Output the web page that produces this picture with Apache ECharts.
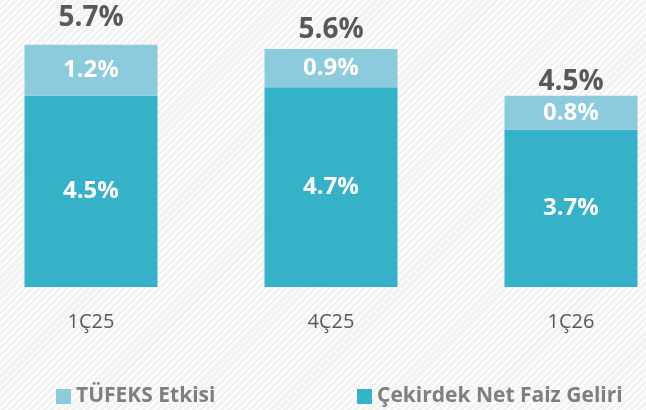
<!DOCTYPE html>
<html>
<head>
<meta charset="utf-8">
<script src="https://cdn.jsdelivr.net/npm/echarts@6/dist/echarts.min.js"></script>
<style>
    html, body { margin: 0; padding: 0; }
    body {
        width: 646px; height: 410px;
        background-color: #f2f2f2;
        background-image: repeating-linear-gradient(135deg, #f2f2f2 0px, #f2f2f2 3px, #fdfdfd 3px, #fdfdfd 5px);
    }
</style>
</head>
<body>
<div id="nimChart" style="width: 646px;height:410px;"></div>
<script>
    // donemler ve degerler (%)
    var quarters = ['1Ç25', '4Ç25', '1Ç26'];
    var coreNii = [4.5, 4.7, 3.7];
    var cpiEffect = [1.2, 0.9, 0.8];
    var totals = [5.7, 5.6, 4.5];

    var coreName = 'Çekirdek Net Faiz Geliri';
    var cpiName = 'TÜFEKS Etkisi';

    // toplam etiketlerinin orijinaldeki hafif kaymasi
    var totalLift = [8, 0, -5];

    var chart = echarts.init(document.getElementById('nimChart'));
    var font = '"Open Sans", "Noto Sans", sans-serif';

    var inLabel = {
        show: true,
        position: 'inside',
        color: '#ffffff',
        fontFamily: font,
        fontWeight: 'bold',
        fontSize: 24,
        formatter: function (p) { return p.value.toFixed(1) + '%'; }
    };

    var legendText = { color: '#7f7f7f', fontFamily: font, fontWeight: 'bold', fontSize: 21 };

    var option = {
        animation: false,
        // kategoriler noktalarda, cubuklar noktalarin etrafinda
        grid: { left: 91, right: 75, top: 0, bottom: 123 },
        legend: [{
            left: 51, top: 381,
            icon: 'rect',
            itemWidth: 15, itemHeight: 15,
            data: [cpiName],
            textStyle: legendText
        }, {
            left: 352, top: 381,
            icon: 'rect',
            itemWidth: 15, itemHeight: 15,
            data: [coreName],
            textStyle: legendText
        }],
        xAxis: {
            type: 'category',
            boundaryGap: false,
            data: quarters,
            axisLine: { show: false },
            axisTick: { show: false },
            axisLabel: { color: '#595959', fontFamily: font, fontSize: 20, margin: 25 }
        },
        yAxis: {
            type: 'value',
            min: 0,
            max: 6.75,
            show: false,
            splitLine: { show: false }
        },
        series: [{
            name: coreName,
            type: 'bar',
            stack: 'nim',
            barWidth: 133,
            clip: false,
            itemStyle: { color: '#35b1c8' },
            label: inLabel,
            data: coreNii
        }, {
            name: cpiName,
            type: 'bar',
            stack: 'nim',
            barWidth: 133,
            clip: false,
            itemStyle: { color: '#8bcbdb' },
            label: inLabel,
            data: cpiEffect
        }, {
            // sadece toplam etiketi icin saydam seri
            name: 'Toplam',
            type: 'bar',
            barWidth: 133,
            barGap: '-100%',
            clip: false,
            silent: true,
            itemStyle: { color: 'rgba(0,0,0,0)' },
            label: {
                show: true,
                position: 'top',
                color: '#595959',
                fontFamily: font,
                fontWeight: 'bold',
                fontSize: 28
            },
            data: totals.map(function (v, i) {
                return {
                    value: v,
                    label: { offset: [0, -totalLift[i]], formatter: v.toFixed(1) + '%' }
                };
            })
        }]
    };
    chart.setOption(option);
    window.addEventListener('resize', function () {
        chart.resize();
    });
</script>
</body>
</html>
